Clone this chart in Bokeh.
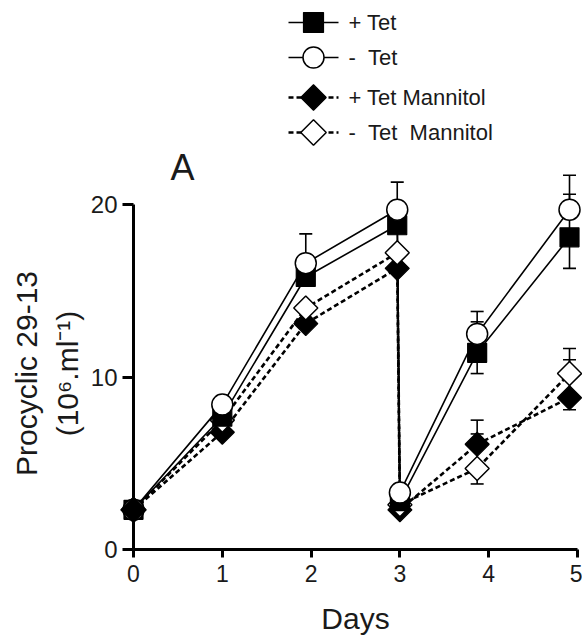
import numpy as np
from bokeh.plotting import figure
from bokeh.models import Range1d, FixedTicker, Whisker, TeeHead, ColumnDataSource, Label
from bokeh.core.properties import value
from bokeh.embed import file_html
from bokeh.resources import INLINE

# ---- data ----
days = [0, 1.0, 1.94, 2.97, 3.0, 3.87, 4.91]
plus_tet = [2.3, 7.7, 15.8, 18.8, 2.8, 11.4, 18.1]
minus_tet = [2.3, 8.4, 16.6, 19.7, 3.3, 12.5, 19.7]
plus_tet_mannitol = [2.3, 6.8, 13.1, 16.3, 2.3, 6.1, 8.8]
minus_tet_mannitol = [2.3, 7.5, 14.0, 17.2, 2.6, 4.7, 10.2]

# error-bar ends (None = not visible)
plus_tet_hi = [None, None, None, None, None, 13.2, 20.6]
plus_tet_lo = [None, None, None, None, None, 10.2, 16.3]
minus_tet_hi = [None, None, 18.3, 21.3, None, 13.8, 21.7]
minus_tet_lo = [None, None, None, None, None, 11.0, None]
plus_mann_hi = [None, None, None, None, None, 7.5, 11.0]
plus_mann_lo = [None, None, None, None, None, None, 8.1]
minus_mann_hi = [None, None, None, None, None, 6.7, 11.65]
minus_mann_lo = [None, None, None, None, None, 3.8, None]

labels = ["+ Tet", "-  Tet", "+ Tet Mannitol", "-  Tet  Mannitol"]
x_ticks = [0, 1, 2, 3, 4, 5]
y_ticks = [0, 10, 20]
x_title = "Days"
y_title = ["Procyclic 29-13", "(10\u2076.ml\u207b\u00b9)"]
panel_title = "A"

FONT = "Liberation Sans"
TXT = "#1a1a1a"

# layout: frame spans x 0..5 (133..577 px), y 0..Y_END (549..0 px)
W, H = 582, 641
FL, FR, FB = 133, 577, 549
Y_END = 31.83
px_x = (FR - FL) / 5.0
px_y = FB / Y_END

p = figure(width=W, height=H, output_backend="svg", toolbar_location=None,
           x_range=Range1d(0, 5), y_range=Range1d(0, Y_END),
           min_border_left=FL, min_border_right=W - FR, min_border_top=0,
           min_border_bottom=H - FB)
p.outline_line_color = None
p.grid.visible = False

for ax in (p.xaxis[0], p.yaxis[0]):
    ax.axis_line_width = 3
    ax.axis_line_color = "black"
    ax.major_tick_line_width = 3
    ax.major_tick_line_color = "black"
    ax.major_tick_in = 0
    ax.minor_tick_line_color = None
    ax.major_label_text_font = FONT
    ax.major_label_text_color = TXT
    ax.axis_label_text_font = FONT
    ax.axis_label_text_font_style = "normal"
    ax.axis_label_text_color = TXT

p.xaxis.ticker = FixedTicker(ticks=x_ticks)
p.xaxis.bounds = (0, 5)
p.xaxis.major_tick_out = 8
p.xaxis.major_label_text_font_size = "23px"
p.xaxis.major_label_standoff = 7
p.xaxis.axis_label = x_title
p.xaxis.axis_label_text_font_size = "30px"
p.xaxis.axis_label_standoff = 17

p.yaxis.ticker = FixedTicker(ticks=y_ticks)
p.yaxis.bounds = (0, 20)
p.yaxis.major_tick_out = 11
p.yaxis.major_label_text_font_size = "24px"
p.yaxis.major_label_standoff = 5

SOLID = dict(line_color="black", line_width=1.6)
DASH = dict(line_color="black", line_width=2.6, line_dash="5 3")
M_PT = dict(marker="square", size=19, fill_color="black", line_color="black", line_width=1.2)
M_MT = dict(marker="circle", size=21, fill_color="white", line_color="black", line_width=1.5)
M_PM = dict(marker="square", angle=np.pi / 4, size=17, fill_color="black", line_color="black", line_width=1.2)
M_MM = dict(marker="square", angle=np.pi / 4, size=17, fill_color="white", line_color="black", line_width=1.5)

# lines
p.line(days, plus_tet, level="overlay", **SOLID)
p.line(days, minus_tet, level="overlay", **SOLID)
p.line(days, plus_tet_mannitol, level="overlay", **DASH)
p.line(days, minus_tet_mannitol, level="overlay", **DASH)

# error bars
up = dict(x=[], lo=[], hi=[])
dn = dict(x=[], lo=[], hi=[])
for ys, his, los in [(plus_tet, plus_tet_hi, plus_tet_lo),
                     (minus_tet, minus_tet_hi, minus_tet_lo),
                     (plus_tet_mannitol, plus_mann_hi, plus_mann_lo),
                     (minus_tet_mannitol, minus_mann_hi, minus_mann_lo)]:
    for x, y, h, l in zip(days, ys, his, los):
        if h is not None:
            up["x"].append(x); up["lo"].append(y); up["hi"].append(h)
        if l is not None:
            dn["x"].append(x); dn["lo"].append(l); dn["hi"].append(y)

p.add_layout(Whisker(source=ColumnDataSource(up), base="x", lower="lo", upper="hi",
                     line_width=1.6, line_color="black", lower_head=None,
                     upper_head=TeeHead(size=13, line_width=1.6, line_color="black")))
p.add_layout(Whisker(source=ColumnDataSource(dn), base="x", lower="lo", upper="hi",
                     line_width=1.6, line_color="black", upper_head=None,
                     lower_head=TeeHead(size=13, line_width=1.6, line_color="black")))

# markers
p.scatter(days, plus_tet_mannitol, level="overlay", **M_PM)
p.scatter(days, minus_tet_mannitol, level="overlay", **M_MM)
p.scatter(days, plus_tet, level="overlay", **M_PT)
p.scatter(days, minus_tet, level="overlay", **M_MT)
# the shared starting point shows the filled diamond on top
p.scatter(days[:1], plus_tet_mannitol[:1], level="overlay", **dict(M_PM, size=18))


def dx(px):
    return (px - FL) / px_x


def dy(py):
    return (FB - py) / px_y


# legend (drawn above the axes, as in the figure)
rows_px = [22, 57, 97, 132]
styles = [(SOLID, dict(M_PT, size=20)), (SOLID, dict(M_MT, size=21)),
          (DASH, dict(M_PM, size=18)), (DASH, dict(M_MM, size=18))]
for ls, ms, ry in zip([s[0] for s in styles], [s[1] for s in styles], rows_px):
    p.line([dx(288), dx(338)], [dy(ry), dy(ry)], level="overlay", **ls)
    p.scatter([dx(313)], [dy(ry)], level="overlay", **ms)
p.text([dx(348)] * 4, [dy(r) for r in rows_px],
       text=[s.replace("  ", " \u00a0") for s in labels], level="overlay",
       text_font=value(FONT), text_font_size="22px", text_color=TXT,
       text_align="left", text_baseline="middle")

# y-axis title, two centred lines (rotated)
p.text([dx(26), dx(67)], [dy(373), dy(373)], text=y_title, angle=np.pi / 2,
       level="overlay", text_font=value(FONT), text_font_size="30px",
       text_color=TXT, text_align="center", text_baseline="alphabetic")

p.add_layout(Label(x=dx(182), y=dy(167), text=panel_title, text_font=FONT,
                   text_font_size="36px", text_align="center",
                   text_baseline="alphabetic", text_color=TXT))

open("out.html", "w").write(file_html(p, INLINE))
